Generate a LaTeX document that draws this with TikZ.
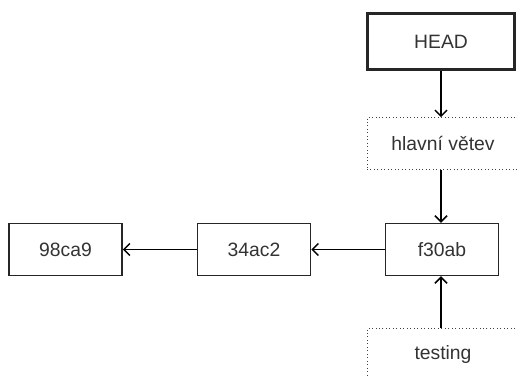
\documentclass[tikz,border=0pt]{standalone}
\usepackage{fontspec}
\setmainfont{Liberation Sans}
\usetikzlibrary{arrows.meta}

\begin{document}
\begin{tikzpicture}[x = 0.75pt, y = -0.75pt,
	commit/.style = {draw = black!85, line width = 1.1pt, minimum width = 85pt, minimum height = 39pt, inner sep = 0pt, text = black!80, font = \fontsize{14.5}{17}\selectfont},
	headbox/.style = {commit, line width = 2.3pt, minimum width = 110pt, minimum height = 42pt},
	branch/.style = {commit, draw = black!75, line width = 0.6pt, dotted, minimum width = 114pt},
	>={Straight Barb[length = 4.5pt, width = 9pt]}]

	\useasboundingbox (0,0) rectangle (517,377);
	\clip (0,0) rectangle (517,377);

	\node [headbox] (head) at (441,41.5) {HEAD};
	\node [branch] (master) at (443,143.5) {hlavní větev};
	\node [commit] (c3) at (442,249.5) {f30ab};
	\node [commit] (c2) at (254,249.5) {34ac2};
	\node [commit] (c1) at (65.5,249.5) {98ca9};
	\node [branch] (testing) at (443,354.5) {testing};

	\draw [->, line width = 1.1pt] (head) -- (head |- master.north);
	\draw [->, line width = 1.1pt] (head |- master.south) -- (head |- c3.north);
	\draw [->, line width = 1.1pt] (head |- testing.north) -- (head |- c3.south);
	\draw [->, line width = 1.1pt] (c3) -- (c2);
	\draw [->, line width = 1.1pt] (c2) -- (c1);

\end{tikzpicture}
\end{document}
